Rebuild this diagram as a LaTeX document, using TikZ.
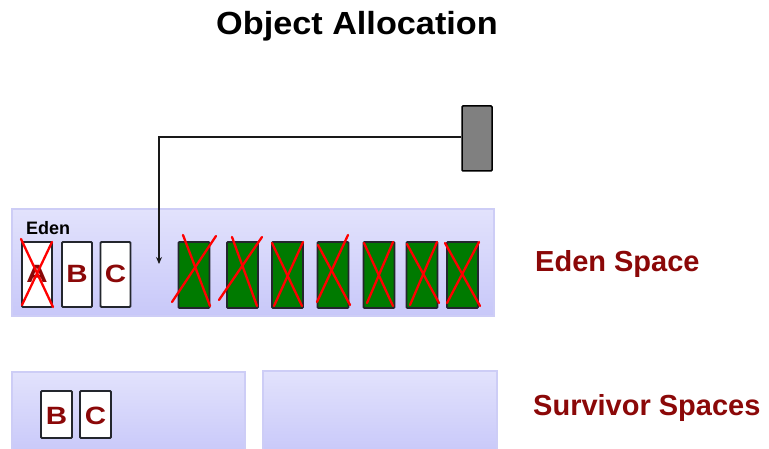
\documentclass[tikz,border=0pt]{standalone}
\usepackage{fontspec}
\setmainfont{Liberation Sans}
\usetikzlibrary{arrows.meta}

\definecolor{labelred}{RGB}{139,8,8}
\definecolor{spacetop}{RGB}{226,226,252}
\definecolor{spacebot}{RGB}{200,200,249}
\definecolor{spaceedge}{RGB}{205,205,246}
\definecolor{objgreen}{RGB}{0,122,0}
\definecolor{objedge}{RGB}{35,38,45}
\definecolor{crossred}{RGB}{255,0,0}

\tikzset{
  x=1pt, y=-1pt,
  space/.style={draw=spaceedge, line width=1.4pt, top color=spacetop, bottom color=spacebot},
  liveobj/.style={draw=objedge, line width=1.8pt, fill=white, rounded corners=1pt},
  deadobj/.style={draw=objedge, line width=1.8pt, fill=objgreen, rounded corners=1pt},
  newobj/.style={draw=black, line width=1.5pt, fill=black!50, rounded corners=1pt},
  objletter/.style={inner sep=0pt, anchor=base, text=labelred,
    font=\fontsize{25}{25}\selectfont\bfseries},
  crossout/.style={draw=crossred, line width=2.3pt, line cap=round},
  pointer/.style={draw=black!90, line width=1.8pt, -{Stealth[length=7pt,width=6pt]}},
  sidelabel/.style={inner sep=0pt, anchor=base west, text=labelred,
    font=\fontsize{29}{29}\selectfont\bfseries},
}

\newcommand{\wideletter}[1]{\scalebox{1.18}[1]{#1}}

\begin{document}
\begin{tikzpicture}
\useasboundingbox (0,0) rectangle (769,449);

% title
\node[inner sep=0pt, anchor=base, font=\fontsize{32}{32}\selectfont\bfseries]
  (title) at (357,35) {\scalebox{1.07}[1]{Object Allocation}};

% memory spaces
\path[space] (12,209) rectangle (494,316);
\node[inner sep=0pt, anchor=base west, font=\fontsize{18}{18}\selectfont\bfseries]
  (edenname) at (26,235) {Eden};
\path[space] (12,372) rectangle (245,455);
\path[space] (263,371) rectangle (497,455);

% side labels
\node[sidelabel] (edenlabel) at (535,272) {Eden Space};
\node[sidelabel] (survlabel) at (533,415) {Survivor Spaces};

% live objects in eden
\node[liveobj, minimum width=30pt, minimum height=65pt, inner sep=0pt] (objA) at (37,274.5) {};
\node[liveobj, minimum width=30pt, minimum height=65pt, inner sep=0pt] (objB) at (77,274.5) {};
\node[liveobj, minimum width=30pt, minimum height=65pt, inner sep=0pt] (objC) at (115.5,274.5) {};
\node[objletter] (letA) at (37,283) {\wideletter{A}};
\node[objletter] (letB) at (77,283) {\wideletter{B}};
\node[objletter] (letC) at (115.5,283) {\wideletter{C}};
\draw[crossout] (21,239) -- (53,307);
\draw[crossout] (52,242) -- (22,305);

% dead objects in eden
\foreach \n/\cx in {1/194, 2/242.5, 3/287.5, 4/333, 5/379, 6/422, 7/462.5}
  \node[deadobj, minimum width=31pt, minimum height=66pt, inner sep=0pt] (dead\n) at (\cx,275) {};
\draw[crossout] (172,302) -- (216,236);
\draw[crossout] (183,235) -- (210,306);
\draw[crossout] (219,300) -- (262,237);
\draw[crossout] (232,237) -- (257,306);
\draw[crossout] (272,243) -- (302,306);
\draw[crossout] (303,242) -- (274,306);
\draw[crossout] (318,245) -- (350,305);
\draw[crossout] (348,235) -- (317,302);
\draw[crossout] (364,243) -- (393,306);
\draw[crossout] (393,242) -- (367,303);
\draw[crossout] (407,244) -- (439,303);
\draw[crossout] (437,242) -- (410,305);
\draw[crossout] (445,243) -- (480,306);
\draw[crossout] (479,242) -- (447,303);

% surviving objects
\node[liveobj, minimum width=31pt, minimum height=47pt, inner sep=0pt] (survB) at (56.5,414.5) {};
\node[liveobj, minimum width=31pt, minimum height=47pt, inner sep=0pt] (survC) at (95.5,414.5) {};
\node[objletter] (sletB) at (56.5,424) {\wideletter{B}};
\node[objletter] (sletC) at (95.5,424) {\wideletter{C}};

% new allocation pointer
\node[newobj, minimum width=30pt, minimum height=65pt, inner sep=0pt] (newobj) at (477,138.5) {};
\coordinate (slot) at (159,264);
\draw[pointer] (newobj.west |- 0,137) -| (slot);
\end{tikzpicture}
\end{document}
